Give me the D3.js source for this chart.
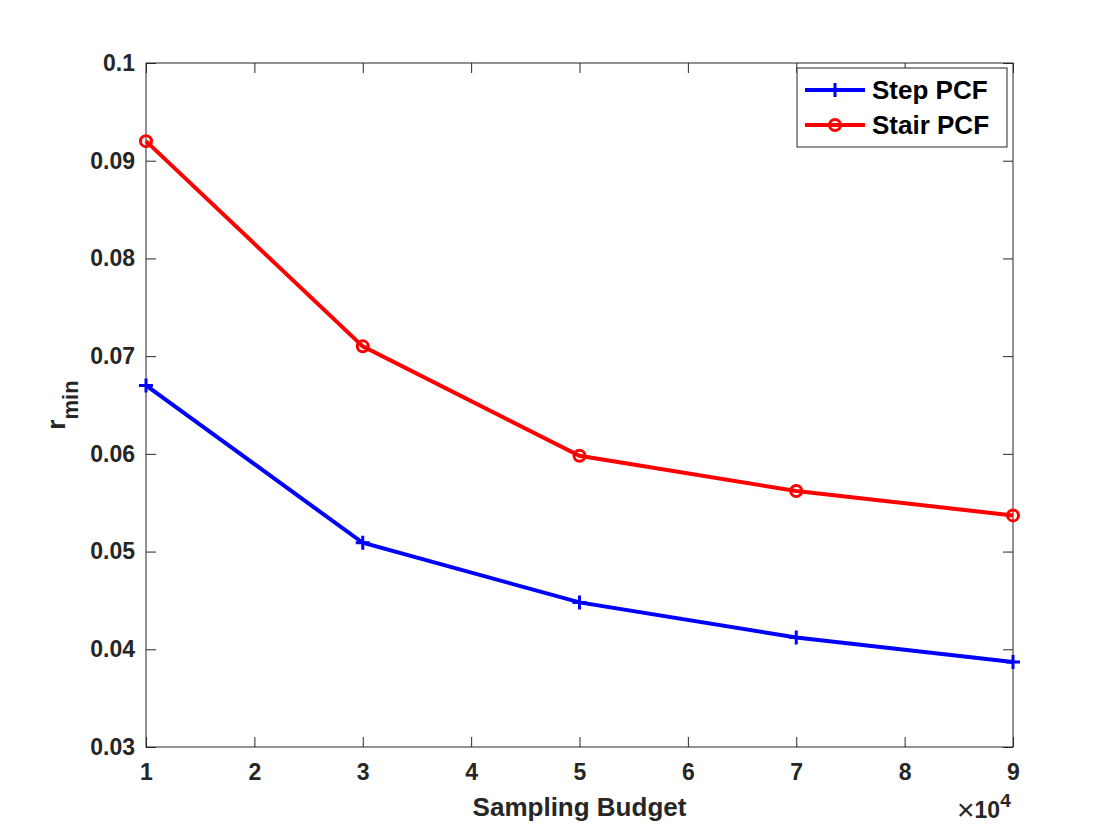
<!DOCTYPE html>
<html>
<head>
<meta charset="utf-8">
<script src="https://cdn.jsdelivr.net/npm/d3@7"></script>
<style>
  body { margin: 0; background: #fff; }
  svg text { font-family: "Liberation Sans", Arial, sans-serif; font-weight: bold; fill: #262626; }
</style>
</head>
<body>
<svg id="chart" width="1120" height="840"></svg>
<script>
const budgets = [1, 3, 5, 7, 9];
const stepPCF = [0.067, 0.0509, 0.0448, 0.0412, 0.0387];
const stairPCF = [0.0920, 0.0710, 0.0598, 0.0562, 0.0537];
const xTicks = [1, 2, 3, 4, 5, 6, 7, 8, 9];
const yTicks = [0.03, 0.04, 0.05, 0.06, 0.07, 0.08, 0.09, 0.1];
const seriesNames = ["Step PCF", "Stair PCF"];

const margin = { top: 63, right: 107, bottom: 93, left: 146 };
const width = 1120 - margin.left - margin.right;
const height = 840 - margin.top - margin.bottom;

const svg = d3.select("#chart");
const g = svg.append("g").attr("transform", `translate(${margin.left},${margin.top})`);

const x = d3.scaleLinear().domain([1, 9]).range([0, width]);
const y = d3.scaleLinear().domain([0.03, 0.1]).range([height, 0]);

const tickLen = 10;
const fmtY = d => String(+d.toFixed(2));

function styleAxis(sel) {
  sel.attr("font-size", null).attr("font-family", null);
  sel.select(".domain").remove();
  sel.selectAll(".tick line").attr("stroke", "#262626").attr("stroke-width", 1);
  sel.selectAll(".tick text").style("font-size", "23px").attr("fill", "#262626");
}

g.append("g")
  .attr("transform", `translate(0,${height})`)
  .call(d3.axisBottom(x).tickValues(xTicks).tickSizeInner(-tickLen).tickSizeOuter(0).tickPadding(17))
  .call(styleAxis);
g.append("g")
  .call(d3.axisTop(x).tickValues(xTicks).tickSizeInner(-tickLen).tickSizeOuter(0).tickFormat(""))
  .call(styleAxis);
g.append("g")
  .call(d3.axisLeft(y).tickValues(yTicks).tickSizeInner(-tickLen).tickSizeOuter(0).tickPadding(11).tickFormat(fmtY))
  .call(styleAxis);
g.append("g")
  .attr("transform", `translate(${width},0)`)
  .call(d3.axisRight(y).tickValues(yTicks).tickSizeInner(-tickLen).tickSizeOuter(0).tickFormat(""))
  .call(styleAxis);

g.append("rect")
  .attr("x", 0).attr("y", 0).attr("width", width).attr("height", height)
  .attr("fill", "none").attr("stroke", "#262626").attr("stroke-width", 1);

// lines
const line = d3.line().x(d => x(d[0])).y(d => y(d[1]));
const stepData = budgets.map((b, i) => [b, stepPCF[i]]);
const stairData = budgets.map((b, i) => [b, stairPCF[i]]);

g.append("path").datum(stepData)
  .attr("d", line).attr("fill", "none").attr("stroke", "#0000ff").attr("stroke-width", 4);
g.append("path").datum(stairData)
  .attr("d", line).attr("fill", "none").attr("stroke", "#ff0000").attr("stroke-width", 4);

// markers
const plus = "M-7,0H7M0,-7V7";
g.selectAll(".plus").data(stepData).join("path")
  .attr("class", "plus")
  .attr("transform", d => `translate(${x(d[0])},${y(d[1])})`)
  .attr("d", plus)
  .attr("stroke", "#0000ff").attr("stroke-width", 3);
g.selectAll(".circ").data(stairData).join("circle")
  .attr("class", "circ")
  .attr("cx", d => x(d[0])).attr("cy", d => y(d[1])).attr("r", 5.5)
  .attr("fill", "none").attr("stroke", "#ff0000").attr("stroke-width", 3);

// axis labels
g.append("text")
  .attr("x", width / 2).attr("y", height + 69)
  .attr("text-anchor", "middle").style("font-size", "26px")
  .text("Sampling Budget");

const yl = svg.append("text")
  .attr("transform", `translate(65,${margin.top + height / 2}) rotate(-90)`)
  .attr("text-anchor", "middle").style("font-size", "26px");
yl.append("tspan").text("r");
yl.append("tspan").attr("dy", 13).style("font-size", "22px").text("min");

// exponent label
const ex = svg.append("text")
  .attr("x", 957).attr("y", 818).style("font-size", "23px");
ex.append("tspan").style("font-weight", "normal").style("font-size", "30px").attr("dy", 2).text("\u00d7");
ex.append("tspan").attr("dy", -2).text("10");
ex.append("tspan").attr("dy", -11).style("font-size", "19px").text("4");

// legend
const leg = svg.append("g").attr("transform", "translate(797,68)");
leg.append("rect").attr("width", 210).attr("height", 79)
  .attr("fill", "#fff").attr("stroke", "#262626").attr("stroke-width", 1);
const colors = ["#0000ff", "#ff0000"];
seriesNames.forEach((name, i) => {
  const cy = 22 + i * 35;
  leg.append("line").attr("x1", 8).attr("x2", 68).attr("y1", cy).attr("y2", cy)
    .attr("stroke", colors[i]).attr("stroke-width", 4);
  if (i === 0) {
    leg.append("path").attr("transform", `translate(38,${cy})`)
      .attr("d", plus).attr("stroke", colors[i]).attr("stroke-width", 3);
  } else {
    leg.append("circle").attr("cx", 38).attr("cy", cy).attr("r", 5.5)
      .attr("fill", "none").attr("stroke", colors[i]).attr("stroke-width", 3);
  }
  leg.append("text").attr("x", 75).attr("y", cy + 9)
    .style("font-size", "26px").style("fill", "#000").text(name);
});
</script>
</body>
</html>
